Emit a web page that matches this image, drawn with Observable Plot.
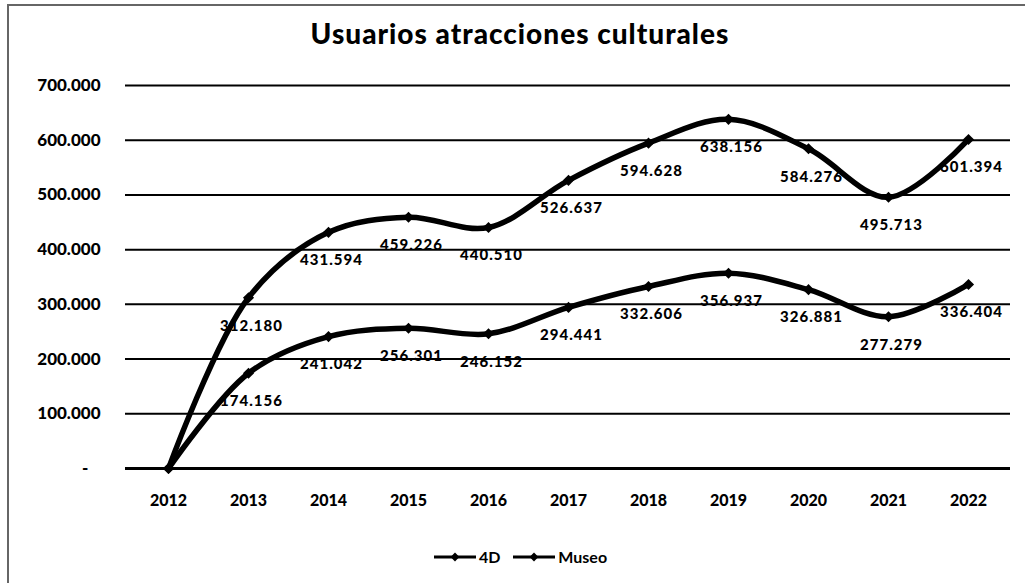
<!DOCTYPE html>
<html>
<head>
<meta charset="utf-8">
<script src="https://cdn.jsdelivr.net/npm/d3@7"></script>
<script src="https://cdn.jsdelivr.net/npm/@observablehq/plot@0.6"></script>
<style>
  html, body { margin: 0; padding: 0; background: #fff; }
  body { width: 1025px; height: 583px; position: relative; overflow: hidden; font-family: Lato, "Open Sans", sans-serif; }
  #frame { position: absolute; left: 7px; top: 4px; width: 1030px; height: 590px; border: 2px solid #666; box-sizing: border-box; }
  #title { position: absolute; left: 0; width: 1040px; top: 17px; text-align: center; font-weight: 900; font-size: 28px; letter-spacing: 1px; line-height: 32px; color: #000; }
  #chart { position: absolute; left: 0; top: 0; }
  #legend { position: absolute; left: 0; width: 1040px; top: 547px; text-align: center; font-weight: 700; font-size: 16px; line-height: 20px; color: #000; }
  #legend span.item { display: inline-flex; align-items: center; margin: 0 6px; }
  #legend svg { margin-right: 2px; }
</style>
</head>
<body>
<div id="frame"></div>
<div id="chart"></div>
<div id="title">Usuarios atracciones culturales</div>
<div id="legend"></div>
<script>
// ---- data ----
const years = ["2012","2013","2014","2015","2016","2017","2018","2019","2020","2021","2022"];
const series4D = [0, 312180, 431594, 459226, 440510, 526637, 594628, 638156, 584276, 495713, 601394];
const seriesMuseo = [0, 174156, 241042, 256301, 246152, 294441, 332606, 356937, 326881, 277279, 336404];
const seriesNames = ["4D", "Museo"];
const yTicks = [0, 100000, 200000, 300000, 400000, 500000, 600000, 700000];

const rows = [];
years.forEach((y, i) => {
  rows.push({year: y, value: series4D[i], serie: seriesNames[0]});
  rows.push({year: y, value: seriesMuseo[i], serie: seriesNames[1]});
});

const fmt = v => v === 0 ? "-\u00a0\u00a0\u00a0" : d3.format(",")(v).replace(/,/g, ".");
const diamond = d3.symbolDiamond2 || "diamond";

const chart = Plot.plot({
  width: 1025,
  height: 520,
  marginLeft: 125,
  marginRight: 15,
  marginTop: 85,
  marginBottom: 52,
  style: {fontFamily: "Lato, 'Open Sans', sans-serif", fontWeight: "bold", fontSize: "16px", color: "#000", background: "transparent"},
  x: {type: "point", domain: years, padding: 0.5, label: null},
  y: {domain: [0, 700000], label: null},
  marks: [
    Plot.ruleY(yTicks.filter(d => d > 0), {stroke: "#000", strokeWidth: 2}),
    Plot.ruleY([0], {stroke: "#000", strokeWidth: 3}),
    Plot.axisY({ticks: yTicks, tickFormat: fmt, tickSize: 0, tickPadding: 25, fontSize: 17, fontWeight: "900", label: null, style: "letter-spacing:1px"}),
    Plot.axisX({tickSize: 0, tickPadding: 26, fontSize: 16, fontWeight: "900", label: null}),
    Plot.line(rows, {x: "year", y: "value", z: "serie", stroke: "#000", strokeWidth: 5.5, curve: "catmull-rom"}),
    Plot.dot(rows, {x: "year", y: "value", symbol: () => diamond, r: 5, fill: "#000", stroke: "none"}),
    Plot.text(rows.filter(d => d.value > 0), {x: "year", y: "value", text: d => fmt(d.value), dy: 28, dx: 3, fontSize: 15, fontWeight: "900"})
  ]
});
chart.querySelectorAll("g[aria-label='text'] text").forEach(t => t.setAttribute("letter-spacing", "1"));
document.getElementById("chart").appendChild(chart);

// legend
const legend = document.getElementById("legend");
seriesNames.forEach(name => {
  const item = document.createElement("span");
  item.className = "item";
  const s = d3.create("svg").attr("width", 44).attr("height", 14);
  s.append("line").attr("x1", 1).attr("x2", 43).attr("y1", 7).attr("y2", 7).attr("stroke", "#000").attr("stroke-width", 3);
  s.append("path").attr("d", d3.symbol(d3.symbolDiamond2 || d3.symbolDiamond, 50)()).attr("transform", "translate(22,7)").attr("fill", "#000");
  item.appendChild(s.node());
  const t = document.createElement("span");
  t.textContent = name;
  item.appendChild(t);
  legend.appendChild(item);
});
</script>
</body>
</html>
